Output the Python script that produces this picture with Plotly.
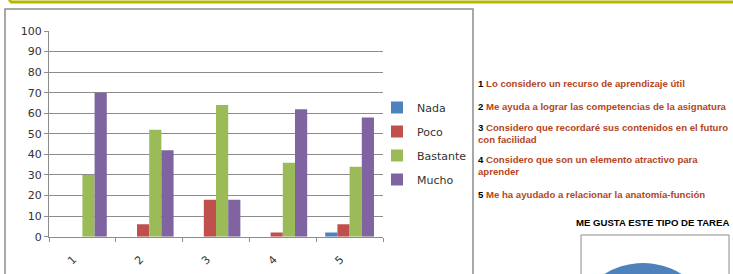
import plotly.graph_objects as go

categories = ["1", "2", "3", "4", "5"]
nada = [0, 0, 0, 0, 2]
poco = [0, 6, 18, 2, 6]
bastante = [30, 52, 64, 36, 34]
mucho = [70, 42, 18, 62, 58]

series_names = ["Nada", "Poco", "Bastante", "Mucho"]
series_values = [nada, poco, bastante, mucho]
series_colors = ["#4f81bd", "#c0504d", "#9bbb59", "#8064a2"]

item_numbers = ["1", "2", "3", "4", "5"]
item_texts = [
    "Lo considero un recurso de aprendizaje útil",
    "Me ayuda a lograr las competencias de la asignatura",
    "Considero que recordaré sus contenidos en el futuro<br>con facilidad",
    "Considero que son un elemento atractivo para<br>aprender",
    "Me ha ayudado a relacionar la anatomía-función",
]
pie_title = "ME GUSTA ESTE TIPO DE TAREA"
# second chart (only its top edge is visible in the picture)
pie_labels = ["Sí", "No"]
pie_values = [90, 10]
pie_colors = ["#4f81bd", "#c0504d"]

W = 733          # visible width
H_VIEW = 274     # visible height
H = 420          # figure height (the lower part is cut off, like the page)


def px(x):
    return x / W


def py(y):
    return 1 - y / H


fig = go.Figure()
for i, (name, vals, col) in enumerate(zip(series_names, series_values, series_colors)):
    fig.add_trace(go.Bar(x=categories, y=vals, name=name, marker_color=col,
                         marker_line_width=0, legendgroup=name))

fig.add_trace(go.Pie(labels=pie_labels, values=pie_values, marker=dict(colors=pie_colors),
                     textinfo="none", showlegend=False, sort=False, rotation=180,
                     hoverinfo="label+percent",
                     domain=dict(x=[px(570), px(716)], y=[py(409), py(263)])))

shapes = [
    # outer chart box
    dict(type="rect", xref="paper", yref="paper", x0=px(5), x1=px(473), y0=py(410), y1=py(9),
         line=dict(color="#8c8c8c", width=1.5)),
    # olive border line at top
    dict(type="line", xref="paper", yref="paper", x0=px(10), x1=px(740), y0=py(2), y1=py(2),
         line=dict(color="#b5b800", width=3)),
    dict(type="line", xref="paper", yref="paper", x0=px(10), x1=px(10), y0=py(-5), y1=py(2),
         line=dict(color="#b5b800", width=3)),
    # pie chart box
    dict(type="rect", xref="paper", yref="paper", x0=px(581), x1=px(729), y0=py(415), y1=py(235),
         line=dict(color="#8c8c8c", width=1)),
]

annotations = []
item_y = [84, 106, 133.5, 166, 194]
for num, txt, yy in zip(item_numbers, item_texts, item_y):
    annotations.append(dict(
        xref="paper", yref="paper", x=px(476), y=py(yy), xanchor="left", yanchor="middle",
        align="left", showarrow=False,
        text=f"<b>{num} <span style='color:#b4461e'>{txt}</span></b>",
        font=dict(family="Liberation Sans, Arial", size=9.6, color="#000000"),
    ))
annotations.append(dict(
    xref="paper", yref="paper", x=px(652), y=py(222), xanchor="center", yanchor="middle",
    showarrow=False, text=f"<b>{pie_title}</b>",
    font=dict(family="Liberation Sans, Arial", size=9.6, color="#000000"),
))

fig.update_layout(
    width=W, height=H,
    margin=dict(l=0, r=0, t=0, b=0, autoexpand=False),
    paper_bgcolor="white", plot_bgcolor="white",
    barmode="group", bargap=0.27, bargroupgap=0,
    font=dict(family="DejaVu Sans", size=11, color="#333333"),
    showlegend=True,
    legend=dict(x=px(377), y=py(93), xanchor="left", yanchor="top",
                font=dict(family="DejaVu Sans", size=11, color="#333333"),
                tracegroupgap=5, traceorder="grouped", bgcolor="rgba(0,0,0,0)",
                itemwidth=30),
    xaxis=dict(domain=[px(49), px(383)], type="category", automargin=False,
               showline=True, linecolor="#8c8c8c", linewidth=1,
               ticks="outside", tickson="boundaries", ticklen=4, tickcolor="#8c8c8c",
               tickangle=-45, showgrid=False, ticklabelstandoff=11, ticklabelshift=-9,
               tickfont=dict(family="DejaVu Sans", size=11, color="#333333")),
    yaxis=dict(domain=[py(236.7), py(31)], range=[0, 100], dtick=10, automargin=False,
               showline=True, linecolor="#8c8c8c", linewidth=1,
               ticks="outside", ticklen=4, tickcolor="#8c8c8c",
               showgrid=True, gridcolor="#8c8c8c", gridwidth=1, zeroline=False,
               tickfont=dict(family="DejaVu Sans", size=11, color="#333333")),
    shapes=shapes,
    annotations=annotations,
)

post = (
    "var s=document.createElement('style');"
    "s.textContent='html,body{margin:0;padding:0;overflow:hidden;width:%dpx;height:%dpx;}"
    " body>div{height:%dpx;overflow:hidden;}';"
    "document.head.appendChild(s);" % (W, H_VIEW, H_VIEW)
)

fig.write_html("out.html", config={"displayModeBar": False}, post_script=post)
